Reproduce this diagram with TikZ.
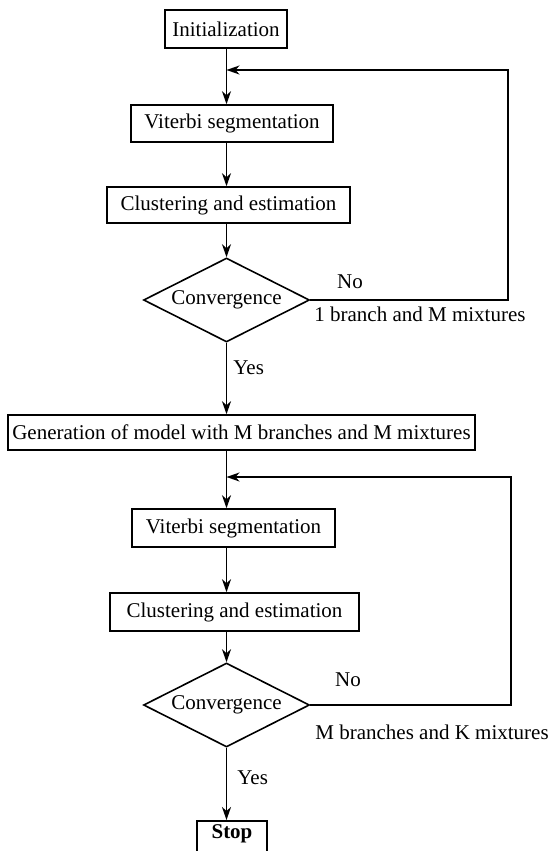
\documentclass[tikz,border=0pt]{standalone}
\usepackage{fontspec}
\setmainfont{Liberation Serif}
\usetikzlibrary{shapes.geometric,arrows.meta}

\tikzset{
  box/.style={draw, line width=0.8pt, inner sep=0pt},
  decision/.style={draw, diamond, aspect=2, line width=0.8pt, inner sep=0pt,
    minimum width=83pt, minimum height=42pt},
  flow/.style={line width=0.8pt, -{Stealth[length=6.5pt,width=4.5pt,inset=2pt]}},
}

\begin{document}
\begin{tikzpicture}[x=0.5pt,y=-0.5pt,font=\fontsize{10.5}{12}\selectfont]
\useasboundingbox (0,0) rectangle (550,851);
\coordinate (ax) at (226.5,0);

% first stage
\node[box, minimum width=61pt, minimum height=19pt] (init) at (226,29) {Initialization};
\node[box, minimum width=101pt, minimum height=18.5pt] (viterbiA) at (232,123.5) {Viterbi segmentation};
\node[box, minimum width=121.5pt, minimum height=18pt] (clusterA) at (228.5,205) {Clustering and estimation};
\node[decision] (convA) at (226.5,300) {Convergence};
\coordinate (loopA) at (508,70);

\node (noA) at (350,282) {No};
\node[anchor=west, inner sep=0pt] (branchA) at (314,314) {1 branch and M mixtures};
\node[anchor=west, inner sep=0pt] (yesA) at (233,368) {Yes};

% second stage
\node[box, minimum width=233.5pt, minimum height=17.5pt] (gen) at (241.5,432.5) {Generation of model with M branches and M mixtures};
\node[box, minimum width=101.5pt, minimum height=19pt] (viterbiB) at (233.5,528) {Viterbi segmentation};
\node[box, minimum width=124.5pt, minimum height=19pt] (clusterB) at (234.5,612) {Clustering and estimation};
\node[decision] (convB) at (226.5,705) {Convergence};
\coordinate (loopB) at (511,477);

\node (noB) at (348,680) {No};
\node[anchor=west, inner sep=0pt] (branchB) at (315,732) {M branches and K mixtures};
\node[anchor=west, inner sep=0pt] (yesB) at (237,778) {Yes};

\node[box, anchor=north, minimum width=35pt, inner ysep=2pt, text height=7pt, text depth=12pt,
  font=\fontsize{10.5}{12}\selectfont\bfseries] (stop) at (232,820) {Stop};

% connectors
\draw[flow] (init.south -| ax) -- (viterbiA.north -| ax);
\draw[flow] (viterbiA.south -| ax) -- (clusterA.north -| ax);
\draw[flow] (clusterA.south -| ax) -- (convA.north);
\draw[flow] (convA.east) -- (convA.east -| loopA) -- (loopA) -- (loopA -| ax);
\draw[flow] (convA.south) -- (gen.north -| ax);

\draw[flow] (gen.south -| ax) -- (viterbiB.north -| ax);
\draw[flow] (viterbiB.south -| ax) -- (clusterB.north -| ax);
\draw[flow] (clusterB.south -| ax) -- (convB.north);
\draw[flow] (convB.east) -- (convB.east -| loopB) -- (loopB) -- (loopB -| ax);
\draw[flow] (convB.south) -- (stop.north -| ax);
\end{tikzpicture}
\end{document}
